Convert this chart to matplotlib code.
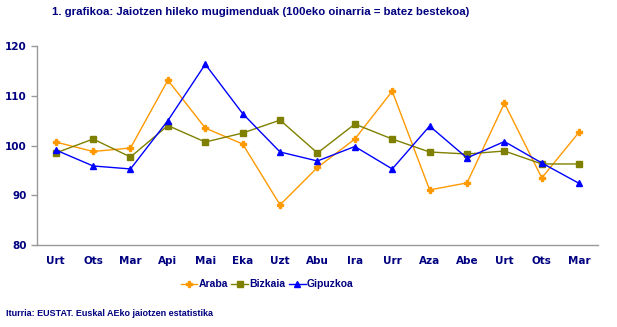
import matplotlib
matplotlib.use('Agg')
import numpy as np
from matplotlib import pyplot as plt

months = ['Urt', 'Ots', 'Mar', 'Api', 'Mai', 'Eka', 'Uzt', 'Abu',
          'Ira', 'Urr', 'Aza', 'Abe', 'Urt', 'Ots', 'Mar']
araba = [100.7, 98.8, 99.5, 113.1, 103.5, 100.3, 88.1, 95.6,
         101.3, 110.9, 91.1, 92.5, 108.5, 93.5, 102.7]
bizkaia = [98.5, 101.3, 97.7, 104.0, 100.7, 102.5, 105.1, 98.5,
           104.3, 101.3, 98.7, 98.3, 98.9, 96.3, 96.3]
gipuzkoa = [99.1, 95.9, 95.3, 105.0, 116.3, 106.4, 98.7, 96.9,
            99.8, 95.3, 103.9, 97.5, 100.8, 96.5, 92.4]

navy = '#000080'
plt.rcParams['font.family'] = 'DejaVu Sans'
plt.rcParams['font.weight'] = 'bold'

fig = plt.figure(figsize=(6.17, 3.27), dpi=100)
ax = fig.add_axes([0.06, 0.25, 0.909, 0.61])

x = np.arange(len(months))
ax.plot(x, araba, color='#FF9900', lw=1, marker='P', ms=4.5, label='Araba')
ax.plot(x, bizkaia, color='#808000', lw=1, marker='s', ms=4, label='Bizkaia')
ax.plot(x, gipuzkoa, color='#0000FF', lw=1, marker='^', ms=4.5, label='Gipuzkoa')

ax.set_xlim(-0.5, len(months) - 0.5)
ax.set_ylim(80, 120)
ax.set_yticks([80, 90, 100, 110, 120])
ax.set_xticks(x)
ax.set_xticklabels(months)

for s in ['top', 'right']:
    ax.spines[s].set_visible(False)
for s in ['left', 'bottom']:
    ax.spines[s].set_color('#999999')
    ax.spines[s].set_linewidth(1)
ax.tick_params(axis='y', colors='#999999', labelcolor=navy, labelsize=7.5,
               length=4, width=1)
ax.tick_params(axis='x', length=0, labelcolor=navy, labelsize=7.5, pad=8)

fig.text(0.423, 0.962, '1. grafikoa: Jaiotzen hileko mugimenduak (100eko oinarria = batez bestekoa)',
         ha='center', va='center', color=navy, fontsize=8.2, fontweight='bold',
         family='Liberation Sans')

leg = fig.legend(loc='center', bbox_to_anchor=(0.433, 0.13), ncol=3, frameon=False,
                 prop={'family': 'Liberation Sans', 'weight': 'bold', 'size': 7.5},
                 handlelength=1.6, handletextpad=0.15, columnspacing=0.3)
for t in leg.get_texts():
    t.set_color(navy)

fig.text(0.01, 0.04, 'Iturria: EUSTAT. Euskal AEko jaiotzen estatistika',
         ha='left', va='center', color=navy, fontsize=6.5, fontweight='bold',
         family='Liberation Sans')

fig.savefig('out.png', dpi=100)
